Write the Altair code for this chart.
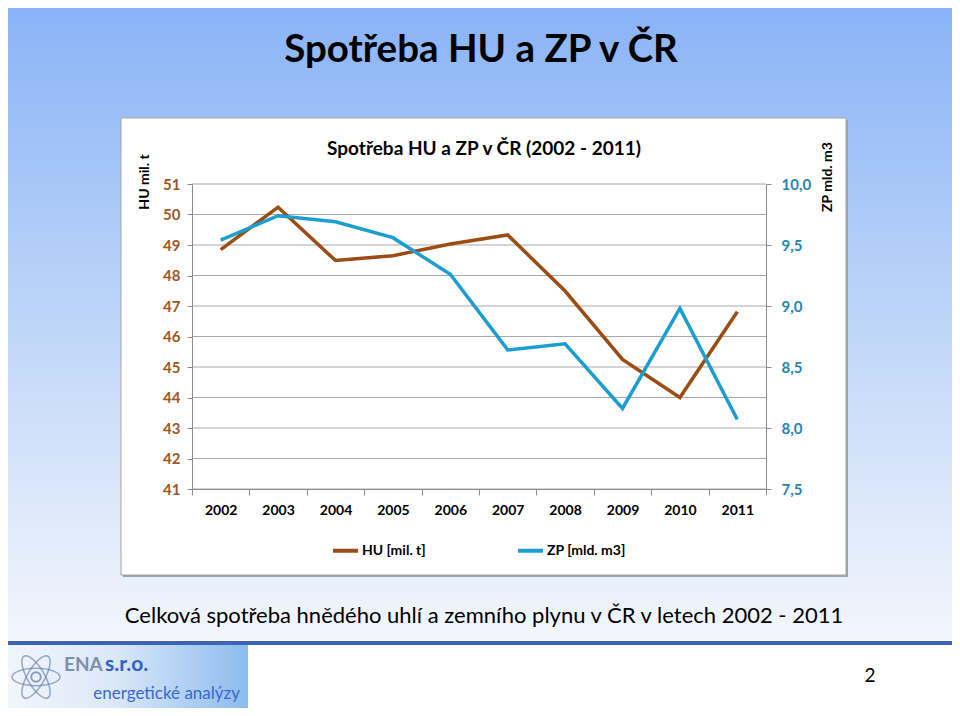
import altair as alt
import pandas as pd

# ---------------- data ----------------
years = ["2002", "2003", "2004", "2005", "2006", "2007", "2008", "2009", "2010", "2011"]
hu = [48.85, 50.24, 48.49, 48.65, 49.03, 49.33, 47.49, 45.25, 44.00, 46.81]
zp = [9.54, 9.74, 9.69, 9.56, 9.26, 8.64, 8.69, 8.16, 8.98, 8.07]
hu_ticks = [41, 42, 43, 44, 45, 46, 47, 48, 49, 50, 51]
zp_ticks = [7.5, 8.0, 8.5, 9.0, 9.5, 10.0]
series_names = ["HU [mil. t]", "ZP [mld. m3]"]

slide_title = "Spotřeba HU a ZP v ČR"
chart_title = "Spotřeba HU a ZP v ČR (2002 - 2011)"
subtitle = "Celková spotřeba hnědého uhlí a zemního plynu v ČR v letech 2002 - 2011"
left_title = "HU  mil. t"
right_title = "ZP  mld. m3"
page_no = "2"

df_hu = pd.DataFrame({"year": years, "value": hu, "series": series_names[0]})
df_zp = pd.DataFrame({"year": years, "value": zp, "series": series_names[1]})
df_grid = pd.DataFrame({"t": hu_ticks})

BROWN = "#9b4d14"
BLUE = "#1c9fd0"
FONT = "Lato"
W, H = 574, 305
one = alt.Data(values=[{}])


def rect(x, x2, y, y2, **kw):
    return alt.Chart(one).mark_rect(**kw).encode(
        x=alt.value(x), x2=alt.value(x2), y=alt.value(y), y2=alt.value(y2))


def text(x, y, s, **kw):
    return alt.Chart(one).mark_text(**kw).encode(
        x=alt.value(x), y=alt.value(y), text=alt.value(s))


bg = rect(-190, 770, -180, 456, fill=alt.LinearGradient(
    gradient="linear", x1=0, y1=0, x2=0, y2=1,
    stops=[alt.GradientStop(color="#89b3f7", offset=0),
           alt.GradientStop(color="#b9d2f8", offset=0.45),
           alt.GradientStop(color="#f3f6fc", offset=1)]))
blue_line = rect(-190, 770, 457, 461, fill="#3d63b6")
logo_bg = rect(-188, 56, 461, 530, fill=alt.LinearGradient(
    gradient="linear", x1=0, y1=0, x2=1, y2=0,
    stops=[alt.GradientStop(color="#f2f6fc", offset=0),
           alt.GradientStop(color="#dbe8f8", offset=0.45),
           alt.GradientStop(color="#8cbbee", offset=1)]))

shadow = rect(-69, 656, -64, 393, fill="#9aa3ae")
box = rect(-71, 654, -66, 391, fill="white", stroke="#a6a6a6", strokeWidth=1)

t_slide = text(289, -134, slide_title, font=FONT, fontSize=38.5, fontWeight="bold",
               color="black", align="center", baseline="middle")
t_chart = text(292, -35, chart_title, font=FONT, fontSize=19, fontWeight="bold",
               color="black", align="center", baseline="middle")
t_left = text(-47, -2, left_title, font=FONT, fontSize=14, fontWeight="bold",
              color="black", align="center", baseline="middle", angle=270)
t_right = text(636, -7, right_title, font=FONT, fontSize=14, fontWeight="bold",
               color="black", align="center", baseline="middle", angle=270)
t_sub = text(292, 432, subtitle, font=FONT, fontSize=22, color="black",
             align="center", baseline="middle")
t_page = text(678, 492, page_no, font=FONT, fontSize=19, color="black",
              align="center", baseline="middle")
t_ena = text(-128, 481, "ENA", font=FONT, fontSize=19, fontWeight="bold",
             color="#7d8fae", align="left", baseline="middle")
t_sro = text(-87, 481, "s.r.o.", font=FONT, fontSize=21, fontWeight="bold",
             color="#2f62c4", align="left", baseline="middle")
t_en = text(48, 510, "energetické analýzy", font=FONT, fontSize=17,
            color="#3a68cc", align="right", baseline="middle")

ellipse = "M -1 0 A 1 0.36 0 1 0 1 0 A 1 0.36 0 1 0 -1 0 Z"
atoms = [alt.Chart(one).mark_point(shape=ellipse, filled=False, size=2300,
                                   stroke="#6f86b0", strokeWidth=1.5, angle=a)
         .encode(x=alt.value(-156), y=alt.value(493)) for a in [0, 60, 120]]
nucleus = alt.Chart(one).mark_point(filled=False, size=90, stroke="#5f78a8",
                                    strokeWidth=2).encode(x=alt.value(-156), y=alt.value(493))

grid = alt.Chart(df_grid).mark_rule(color="#a9a9a9", strokeWidth=1).encode(
    y=alt.Y("t:Q", scale=alt.Scale(domain=[41, 51], nice=False, zero=False), axis=None),
    x=alt.value(0), x2=alt.value(W))

color = alt.Color("series:N", scale=alt.Scale(domain=series_names, range=[BROWN, BLUE]),
                  legend=alt.Legend(title=None, orient="none", legendX=139, legendY=352,
                                    direction="horizontal", symbolType="stroke",
                                    symbolSize=625, symbolStrokeWidth=4,
                                    labelFont=FONT, labelFontSize=14,
                                    labelFontWeight="bold", labelColor="black",
                                    labelOffset=2, columnPadding=84))

xenc = alt.X("year:O", bandPosition=0.5,
             scale=alt.Scale(type="band", paddingInner=0, paddingOuter=0),
             axis=alt.Axis(title=None, labelAngle=0, tickBand="extent", grid=False,
                           domainColor="#8c8c8c", tickColor="#8c8c8c", tickSize=6,
                           labelFont=FONT, labelFontSize=14, labelFontWeight="bold",
                           labelColor="black", labelPadding=8, zindex=1))

line_hu = alt.Chart(df_hu).mark_line(strokeWidth=3.5).encode(
    x=xenc,
    y=alt.Y("value:Q", scale=alt.Scale(domain=[41, 51], nice=False, zero=False),
            axis=alt.Axis(orient="left", title=None, values=hu_ticks, grid=False,
                          domainColor="#8c8c8c", tickColor="#8c8c8c", tickSize=5,
                          labelFont=FONT, labelFontSize=15, labelFontWeight="bold",
                          labelColor="#9a5a25", labelPadding=7, zindex=1)),
    color=color)

line_zp = alt.Chart(df_zp).mark_line(strokeWidth=3.5).encode(
    x=xenc,
    y=alt.Y("value:Q", scale=alt.Scale(domain=[7.5, 10.0], nice=False, zero=False),
            axis=alt.Axis(orient="right", title=None, values=zp_ticks, grid=False,
                          domainColor="#8c8c8c", tickColor="#8c8c8c", tickSize=5,
                          labelFont=FONT, labelFontSize=15, labelFontWeight="bold",
                          labelColor="#2a85ad", labelPadding=10, zindex=1,
                          labelExpr="replace(format(datum.value, '.1f'), '.', ',')")),
    color=color)

chart = alt.layer(
    bg, blue_line, logo_bg, *atoms, nucleus, t_ena, t_sro, t_en,
    shadow, box, t_slide, t_chart, t_left, t_right, t_sub, t_page,
    grid, line_hu, line_zp
).resolve_scale(y="independent").properties(
    width=W, height=H,
    autosize=alt.AutoSizeParams(type="none"),
    padding={"left": 184, "top": 176, "right": 186, "bottom": 219},
).configure_view(stroke=None)

chart.save("out.html", embed_options={"renderer": "svg", "actions": False})
